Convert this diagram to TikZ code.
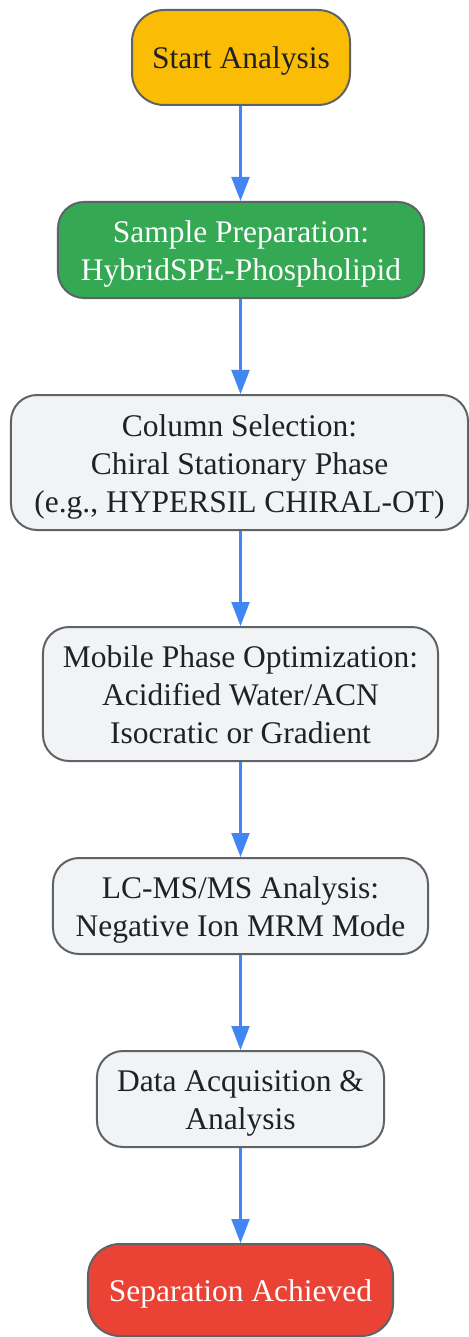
\documentclass[tikz,border=0pt]{standalone}
\usepackage{fontspec}
\setmainfont{Liberation Serif}
\usetikzlibrary{arrows.meta}
\definecolor{startc}{HTML}{FBBC05}
\definecolor{greenc}{HTML}{34A853}
\definecolor{redc}{HTML}{EA4335}
\definecolor{grayc}{HTML}{F1F3F4}
\definecolor{borderc}{HTML}{5F6368}
\definecolor{arrowc}{HTML}{4285F4}
\definecolor{textc}{HTML}{202124}
\tikzset{
  box/.style={draw=borderc, line width=2bp, rounded corners=26bp, align=center,
    inner sep=0pt, font=\fontsize{31.5bp}{38bp}\selectfont, text=textc, fill=grayc,
    text depth=3bp},
  oneline/.style={text height=26bp},
  twoline/.style={text height=64bp},
  threeline/.style={text height=102bp},
  flow/.style={draw=arrowc, line width=2.2bp, -{Triangle[length=24bp,width=18bp]}}
}
\begin{document}
\begin{tikzpicture}[x=1bp,y=-1bp]
\useasboundingbox (0,0) rectangle (469,1337);
\node[box, oneline, fill=startc, rounded corners=32bp, minimum width=218bp, minimum height=95bp] (start) at (241,57.5) {Start Analysis};
\node[box, twoline, fill=greenc, text=white, minimum width=366bp, minimum height=96bp] (prep) at (241,250) {Sample Preparation:\\HybridSPE-Phospholipid};
\node[box, threeline, minimum width=457bp, minimum height=135bp] (col) at (239.5,462.5) {Column Selection:\\Chiral Stationary Phase\\(e.g., HYPERSIL CHIRAL-OT)};
\node[box, threeline, minimum width=395bp, minimum height=134bp] (mob) at (240.5,694) {Mobile Phase Optimization:\\Acidified Water/ACN\\Isocratic or Gradient};
\node[box, twoline, minimum width=375bp, minimum height=96bp] (lc) at (240.5,906) {LC-MS/MS Analysis:\\Negative Ion MRM Mode};
\node[box, twoline, minimum width=287bp, minimum height=96bp] (data) at (240.5,1099) {Data Acquisition \&\\Analysis};
\node[box, oneline, fill=redc, text=white, rounded corners=32bp, minimum width=305bp, minimum height=92bp] (sep) at (240.5,1290) {Separation Achieved};
\draw[flow] (start.south -| 240.5,0) -- (prep.north -| 240.5,0);
\draw[flow] (prep.south -| 240.5,0) -- (col.north -| 240.5,0);
\draw[flow] (col.south -| 240.5,0) -- (mob.north -| 240.5,0);
\draw[flow] (mob) -- (lc);
\draw[flow] (lc) -- (data);
\draw[flow] (data) -- (sep);
\end{tikzpicture}
\end{document}
